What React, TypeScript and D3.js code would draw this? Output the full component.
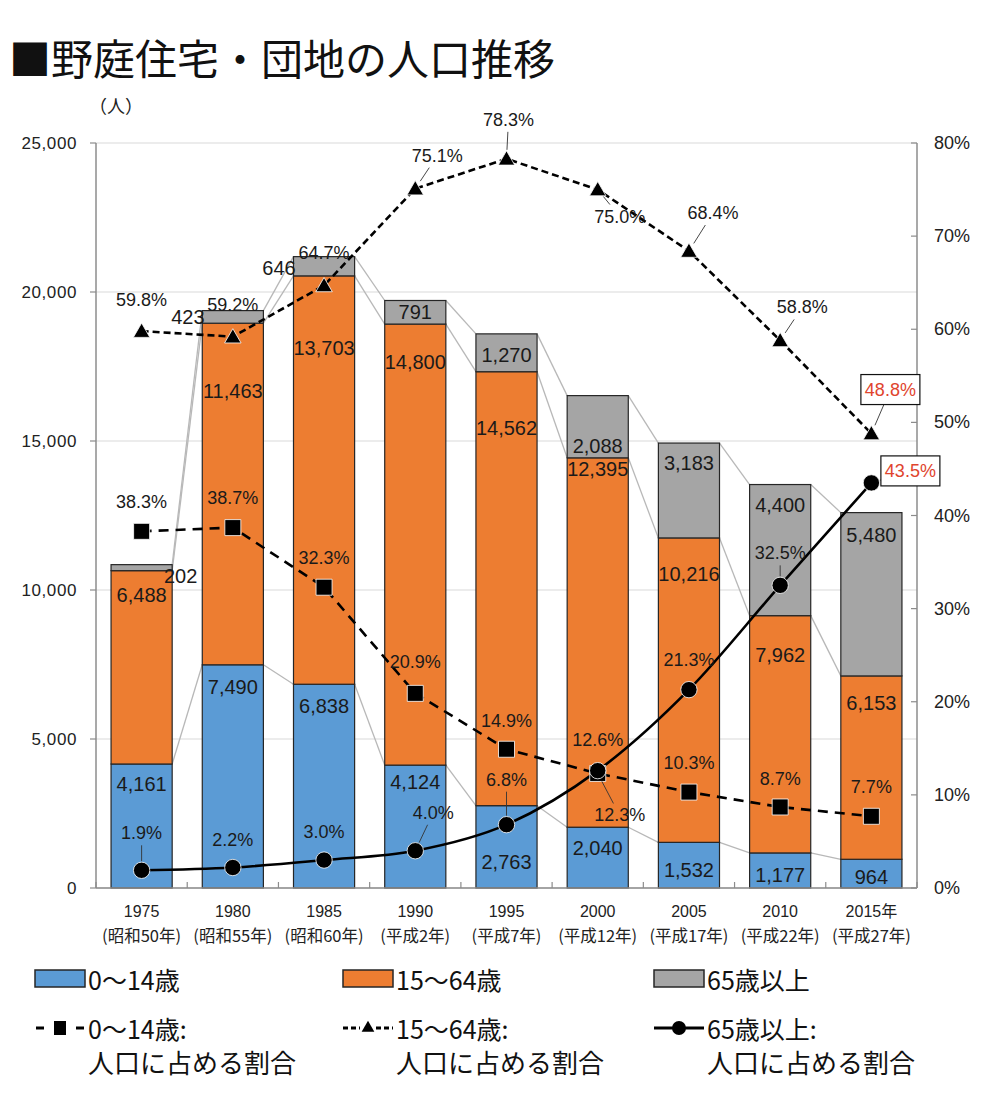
import React from 'react';
import * as d3 from 'd3';

const years = ['1975', '1980', '1985', '1990', '1995', '2000', '2005', '2010', '2015年'];
const eras = ['(昭和50年)', '(昭和55年)', '(昭和60年)', '(平成2年)', '(平成7年)', '(平成12年)', '(平成17年)', '(平成22年)', '(平成27年)'];
const young = [4161, 7490, 6838, 4124, 2763, 2040, 1532, 1177, 964];
const working = [6488, 11463, 13703, 14800, 14562, 12395, 10216, 7962, 6153];
const elderly = [202, 423, 646, 791, 1270, 2088, 3183, 4400, 5480];
const youngPct = [38.3, 38.7, 32.3, 20.9, 14.9, 12.3, 10.3, 8.7, 7.7];
const workingPct = [59.8, 59.2, 64.7, 75.1, 78.3, 75.0, 68.4, 58.8, 48.8];
const elderlyPct = [1.9, 2.2, 3.0, 4.0, 6.8, 12.6, 21.3, 32.5, 43.5];
const leftTicks = [0, 5000, 10000, 15000, 20000, 25000];
const rightTicks = [0, 10, 20, 30, 40, 50, 60, 70, 80];
const seriesNames = ['0～14歳', '15～64歳', '65歳以上'];

// layout tweaks for labels (pixel offsets, like manually moved Excel labels)
const youngLabelDy = [20, 22, 22, 17, 56, 21, 28, 22, 18];
const workingLabelDy = [24, 68, 72, 38, 56, 11, 36, 39, 27];
const elderlyLabelOff = [[39, 11], [-45, 6], [-45, 11], [0, 12], [0, 21], [0, 50], [0, 20], [0, 20], [0, 22]];
type Off = [number, number, boolean?, boolean?];
const workingPctOff: Off[] = [[0, -31], [0, -32], [0, -32], [22, -33, true], [2, -39, true], [22, 27, true], [24, -38, true], [22, -33, true], [19, -44, true, true]];
const youngPctOff: Off[] = [[0, -29], [0, -30], [0, -29], [0, -31], [0, -28], [22, 42, true], [0, -29], [0, -28], [0, -29]];
const elderlyPctOff: Off[] = [[0, -37, true], [0, -28], [0, -28], [18, -38, true], [0, -45, true], [0, -31], [0, -30], [0, -32, true], [39, -12, true, true]];

const COLORS = ['#5B9BD5', '#ED7D31', '#A5A5A5'];
const NUM_FONT = '"Liberation Sans", Arial, sans-serif';
const JP_FONT = '"Noto Sans CJK JP", "Noto Sans", sans-serif';

function fmt(n: number) { return d3.format(',')(n); }

function leader(mx: number, my: number, lx: number, ly: number, hw: number, hh: number, r: number) {
  const dx = mx - lx, dy = my - ly;
  const tx = Math.abs(dx) > 0.01 ? hw / Math.abs(dx) : Infinity;
  const ty = Math.abs(dy) > 0.01 ? hh / Math.abs(dy) : Infinity;
  const t = Math.min(tx, ty);
  const sx = lx + dx * t, sy = ly + dy * t;
  const len = Math.hypot(dx, dy);
  const ex = mx - (dx / len) * r, ey = my - (dy / len) * r;
  return [sx, sy, ex, ey];
}

export default function App() {
  const W = 1008, H = 1112;
  const x = d3.scaleBand<string>().domain(years).range([96, 917]).paddingInner(0.33).paddingOuter(0.165);
  const bw = x.bandwidth();
  const yL = d3.scaleLinear().domain([0, 25000]).range([888, 143]);
  const yR = d3.scaleLinear().domain([0, 80]).range([888, 143]);
  const cx = (i: number) => (x(years[i]) as number) + bw / 2;

  const rows = years.map((y, i) => ({ year: y, a: young[i], b: working[i], c: elderly[i] }));
  const stack = d3.stack<any>().keys(['a', 'b', 'c'])(rows);

  const line = d3.line<number>().x((_, i) => cx(i)).y(d => yR(d));
  const smooth = d3.line<number>().x((_, i) => cx(i)).y(d => yR(d)).curve(d3.curveMonotoneX);

  const tri = d3.symbol().type(d3.symbolTriangle).size(118)() as string;
  const sq = d3.symbol().type(d3.symbolSquare).size(256)() as string;
  const circ = d3.symbol().type(d3.symbolCircle).size(210)() as string;

  const labelDys = [youngLabelDy, workingLabelDy];

  const pctSeries = [
    { vals: youngPct, off: youngPctOff, marker: sq },
    { vals: workingPct, off: workingPctOff, marker: tri },
    { vals: elderlyPct, off: elderlyPctOff, marker: circ },
  ];

  return (
    <svg width={W} height={H} style={{ position: 'absolute', left: 0, top: 0, background: '#fff' }}>
      <rect x={0} y={0} width={W} height={H} fill="#fff" />
      <text x={9} y={75} fontSize={42} fontFamily={JP_FONT} fill="#111">■野庭住宅・団地の人口推移</text>
      <text x={89} y={113} fontSize={18} fontFamily={JP_FONT} fill="#222">（人）</text>

      {/* gridlines */}
      {leftTicks.map(t => (
        <line key={'g' + t} x1={96} x2={917} y1={yL(t)} y2={yL(t)} stroke="#d9d9d9" strokeWidth={1.2} />
      ))}
      {/* left axis */}
      <line x1={96} x2={96} y1={143} y2={888} stroke="#8c8c8c" strokeWidth={1.5} />
      {leftTicks.map(t => (
        <g key={'lt' + t}>
          <line x1={90} x2={96} y1={yL(t)} y2={yL(t)} stroke="#8c8c8c" strokeWidth={1.2} />
          <text x={77} y={yL(t)} textAnchor="end" dominantBaseline="central" fontSize={17} letterSpacing={0.6} fontFamily={NUM_FONT} fill="#222">{fmt(t)}</text>
        </g>
      ))}
      {/* right axis */}
      <line x1={917} x2={917} y1={143} y2={888} stroke="#8c8c8c" strokeWidth={1.5} />
      {rightTicks.map(t => (
        <g key={'rt' + t}>
          <line x1={911} x2={917} y1={yR(t)} y2={yR(t)} stroke="#8c8c8c" strokeWidth={1.2} />
          <text x={934} y={yR(t)} dominantBaseline="central" fontSize={18} fontFamily={NUM_FONT} fill="#222">{t + '%'}</text>
        </g>
      ))}

      {/* series connector lines */}
      {stack.map((s, k) => (
        <g key={'sl' + k}>
          {s.slice(0, -1).map((d, i) => (
            <line key={i} x1={(x(years[i]) as number) + bw} y1={yL(d[1])} x2={x(years[i + 1]) as number} y2={yL(s[i + 1][1])}
              stroke="#b8b8b8" strokeWidth={1.3} />
          ))}
        </g>
      ))}

      {/* bars */}
      {stack.map((s, k) => (
        <g key={'bars' + k}>
          {s.map((d, i) => (
            <rect key={i} x={x(years[i])} y={yL(d[1])} width={bw} height={yL(d[0]) - yL(d[1])}
              fill={COLORS[k]} stroke="#262626" strokeWidth={1.2} />
          ))}
        </g>
      ))}

      {/* x axis */}
      <line x1={96} x2={917} y1={888} y2={888} stroke="#8c8c8c" strokeWidth={1.5} />
      {d3.range(years.length + 1).map(i => {
        const xx = 96 + x.step() * i;
        return <line key={'xt' + i} x1={xx} x2={xx} y1={882} y2={888} stroke="#8c8c8c" strokeWidth={1.2} />;
      })}
      {years.map((y, i) => (
        <g key={'xl' + i}>
          <text x={cx(i)} y={911} textAnchor="middle" dominantBaseline="central" fontSize={16} fontFamily={'"Liberation Sans", "Noto Sans CJK JP", sans-serif'} fill="#222">{y}</text>
          <text x={cx(i)} y={935} textAnchor="middle" dominantBaseline="central" fontSize={16.5} fontFamily={JP_FONT} fill="#222">{eras[i]}</text>
        </g>
      ))}

      {/* bar value labels */}
      {stack.map((s, k) => (
        <g key={'bl' + k}>
          {s.map((d, i) => {
            const v = d[1] - d[0];
            let lx = cx(i), ly: number;
            if (k < 2) ly = yL(d[1]) + labelDys[k][i];
            else { lx = cx(i) + elderlyLabelOff[i][0]; ly = yL(d[1]) + elderlyLabelOff[i][1]; }
            return (
              <text key={i} x={lx} y={ly} textAnchor="middle" dominantBaseline="central" fontSize={20}
                fontFamily={NUM_FONT} fill="#1a1a1a">{fmt(v)}</text>
            );
          })}
        </g>
      ))}

      {/* percentage lines */}
      <path d={line(youngPct) as string} fill="none" stroke="#000" strokeWidth={2.6} strokeDasharray="10,7" />
      <path d={line(workingPct) as string} fill="none" stroke="#000" strokeWidth={2.6} strokeDasharray="7,4" />
      <path d={smooth(elderlyPct) as string} fill="none" stroke="#000" strokeWidth={2.6} />

      {/* markers */}
      {pctSeries.map((s, k) => (
        <g key={'m' + k}>
          {s.vals.map((v, i) => (
            <path key={i} d={s.marker} transform={`translate(${cx(i)},${yR(v) + (k === 1 ? 1.5 : 0)})`} fill="#000" stroke="#fff" strokeWidth={0.8} />
          ))}
        </g>
      ))}

      {/* percentage labels */}
      {pctSeries.map((s, k) => (
        <g key={'pl' + k}>
          {s.vals.map((v, i) => {
            const [dx, dy, hasLeader, boxed] = s.off[i];
            const mx = cx(i), my = yR(v);
            const lx = mx + dx, ly = my + dy;
            const txt = v.toFixed(1) + '%';
            const hw = boxed ? 29.5 : 23, hh = boxed ? 15 : 12;
            const ld = hasLeader ? leader(mx, my, lx, ly, hw, hh, 9) : null;
            return (
              <g key={i}>
                {ld && <line x1={ld[0]} y1={ld[1]} x2={ld[2]} y2={ld[3]} stroke="#333" strokeWidth={0.9} />}
                {boxed && <rect x={lx - 29.5} y={ly - 15} width={59} height={30} fill="#fff" stroke="#111" strokeWidth={1.2} />}
                <text x={lx} y={ly} textAnchor="middle" dominantBaseline="central" fontSize={18} fontFamily={NUM_FONT}
                  fill={boxed ? '#E0442E' : '#1a1a1a'}>{txt}</text>
              </g>
            );
          })}
        </g>
      ))}

      {/* legend row 1 */}
      {seriesNames.map((n, k) => {
        const lx = [35, 343, 654][k];
        return (
          <g key={'lg' + k}>
            <rect x={lx} y={970} width={50} height={17} fill={COLORS[k]} stroke="#262626" strokeWidth={1.5} />
            <text x={lx + 53} y={979} dominantBaseline="central" fontSize={25} fontFamily={JP_FONT} fill="#111">{n}</text>
          </g>
        );
      })}
      {/* legend row 2 */}
      {seriesNames.map((n, k) => {
        const lx = [35, 343, 654][k];
        const my = 1028;
        let sym: React.ReactNode = null;
        if (k === 0) sym = (
          <g>
            <line x1={lx + 1} x2={lx + 9} y1={my} y2={my} stroke="#000" strokeWidth={3} />
            <rect x={lx + 19} y={my - 7} width={12} height={14} fill="#000" />
            <line x1={lx + 41} x2={lx + 49} y1={my} y2={my} stroke="#000" strokeWidth={3} />
          </g>
        );
        else if (k === 1) sym = (
          <g>
            <line x1={lx} x2={lx + 17} y1={my} y2={my} stroke="#000" strokeWidth={3} strokeDasharray="5,3" />
            <path d={d3.symbol().type(d3.symbolTriangle).size(70)() as string} transform={`translate(${lx + 25},${my})`} fill="#000" />
            <line x1={lx + 33} x2={lx + 50} y1={my} y2={my} stroke="#000" strokeWidth={3} strokeDasharray="5,3" />
          </g>
        );
        else sym = (
          <g>
            <line x1={lx} x2={lx + 50} y1={my} y2={my} stroke="#000" strokeWidth={3} />
            <circle cx={lx + 25} cy={my} r={7} fill="#000" />
          </g>
        );
        return (
          <g key={'lg2' + k}>
            {sym}
            <text x={lx + 53} y={my} dominantBaseline="central" fontSize={25} fontFamily={JP_FONT} fill="#111">{n + ':'}</text>
            <text x={lx + 53} y={1061} dominantBaseline="central" fontSize={26} fontFamily={JP_FONT} fill="#111">人口に占める割合</text>
          </g>
        );
      })}
    </svg>
  );
}
